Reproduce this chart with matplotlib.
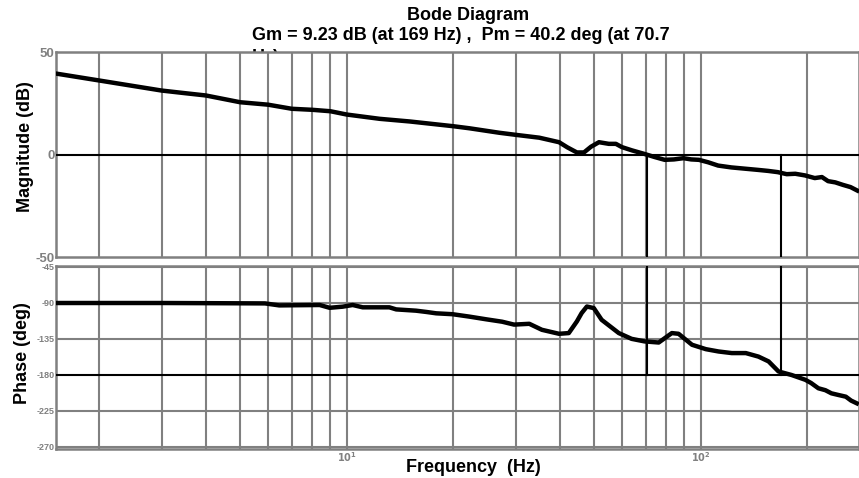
import matplotlib
matplotlib.use("Agg")
import matplotlib.pyplot as plt
from matplotlib.ticker import FixedLocator, NullFormatter

plt.rcParams['font.family'] = ['Liberation Sans', 'DejaVu Sans']

# ---- data ----
mag_freq = [1.52, 2.0, 3.0, 3.5, 4.0, 5.0, 6.0, 7.0, 8.0, 9.0, 10.0, 12.4, 15.1, 20.0,
            22.2, 27.0, 30.0, 35.0, 39.8, 42.0, 44.7, 46.8, 49.0, 51.6, 55.0, 57.6, 59.9,
            64.0, 69.6, 74.0, 79.1, 84.0, 89.4, 94.0, 98.8, 105.0, 112.0, 122.0, 133.0,
            145.0, 155.0, 165.0, 175.0, 185.0, 197.0, 210.0, 220.0, 229.0, 240.0, 252.0,
            265.0, 277.0]
mag_db = [39.4, 36.1, 31.2, 29.9, 28.8, 25.5, 24.3, 22.3, 21.8, 21.1, 19.5, 17.4, 16.1, 13.8,
          12.8, 10.6, 9.6, 8.2, 6.0, 3.5, 1.0, 1.0, 3.8, 6.0, 5.2, 5.2, 3.6,
          2.0, 0.2, -1.2, -2.6, -2.4, -1.8, -2.4, -2.6, -3.8, -5.4, -6.3, -6.9,
          -7.5, -8.0, -8.6, -9.6, -9.4, -10.2, -11.5, -11.0, -13.0, -13.6, -14.8,
          -15.9, -17.6]

ph_freq = [1.52, 3.0, 5.88, 6.45, 8.39, 8.95, 9.74, 10.4, 11.1, 13.2, 13.8, 15.7, 16.8,
           17.9, 19.9, 22.2, 24.8, 27.5, 29.7, 32.8, 35.6, 39.8, 42.4, 44.7, 46.1, 47.7,
           49.9, 52.5, 58.7, 63.8, 69.4, 76.1, 82.9, 86.6, 94.5, 103.4, 112.3, 122.4,
           134.1, 145.6, 155.5, 165.9, 180.6, 197.5, 205.0, 215.0, 225.0, 234.0, 245.0,
           257.0, 266.0, 276.0]
ph_deg = [-90.0, -90.0, -90.5, -93.0, -92.5, -96.0, -94.6, -92.5, -95.4, -95.4, -98.0, -99.6,
          -101.2, -102.9, -104.0, -107.0, -110.4, -113.4, -117.0, -116.0, -123.5, -128.5,
          -127.6, -113.0, -102.6, -94.4, -96.4, -111.0, -127.6, -134.8, -138.0, -139.4,
          -127.6, -128.5, -142.2, -147.7, -150.6, -152.6, -152.6, -157.0, -163.0, -175.6,
          -180.0, -186.0, -190.0, -196.6, -199.0, -202.9, -205.0, -207.1, -212.0, -215.4]

gm_freq = 169.0
pm_freq = 70.7
title_1 = "Bode Diagram"
title_2 = "Gm = 9.23 dB (at 169 Hz) ,  Pm = 40.2 deg (at 70.7"
title_3 = "Hz)"
mag_ticks = [50, 0, -50]
ph_ticks = [-45, -90, -135, -180, -225, -270]
x_ticks = [10, 100]
x_ticklabels = [r'$\mathbf{10^{1}}$', r'$\mathbf{10^{2}}$']
grid_freqs = [2, 3, 4, 5, 6, 7, 8, 9, 10, 20, 30, 40, 50, 60, 70, 80, 90, 100, 200]

# ---- figure ----
W, H = 859, 478
fig = plt.figure(figsize=(W / 100, H / 100), dpi=100)

gray = '#808080'
left = 56 / W
ax1 = fig.add_axes([left, 1 - 257 / H, 1 - left, (257 - 52) / H])
ax2 = fig.add_axes([left, 1 - 449 / H, 1 - left, (449 - 266) / H])

xlim = (1.51, 280)
for ax in (ax1, ax2):
    ax.set_xscale('log')
    ax.set_xlim(*xlim)
    for f in grid_freqs:
        ax.axvline(f, color=gray, lw=1.5, zorder=1)
    for s in ax.spines.values():
        s.set_color(gray)
        s.set_linewidth(1.8)
    ax.xaxis.set_major_locator(FixedLocator(x_ticks))
    ax.xaxis.set_minor_locator(FixedLocator([]))
    ax.tick_params(length=0, pad=1)

fs = 13

# magnitude
ax1.plot(mag_freq, mag_db, color='black', lw=3.2, zorder=4)
ax1.set_ylim(-50, 50)
ax1.set_yticks(mag_ticks)
ax1.set_yticklabels([str(t) for t in mag_ticks], color=gray, fontsize=9.5, fontweight='bold')
ax1.xaxis.set_major_formatter(NullFormatter())
ax1.axhline(0, color='black', lw=1.5, zorder=3)
ax1.plot([pm_freq, pm_freq], [0, -50], color='black', lw=1.5, zorder=3)
ax1.plot([gm_freq, gm_freq], [0, -50], color='black', lw=1.5, zorder=3)

# phase
ax2.plot(ph_freq, ph_deg, color='black', lw=3.2, zorder=4)
ax2.set_ylim(-272.5, -43.75)
ax2.set_yticks(ph_ticks)
ax2.set_yticklabels([str(t) for t in ph_ticks], color=gray, fontsize=6.5, fontweight='bold')
for t in ph_ticks:
    if t != -180:
        ax2.axhline(t, color=gray, lw=1.5, zorder=1)
ax2.axhline(-180, color='black', lw=1.5, zorder=3)
ax2.plot([pm_freq, pm_freq], [-43.75, -180], color='black', lw=1.5, zorder=3)
ax2.plot([gm_freq, gm_freq], [-43.75, -180], color='black', lw=1.5, zorder=3)
ax2.set_xticklabels(x_ticklabels, color=gray, fontsize=7)

fig.text(25 / W, 1 - 147 / H, 'Magnitude (dB)', rotation=90, ha='center', va='center',
         fontsize=fs, fontweight='bold')
fig.text(23 / W, 1 - 353 / H, 'Phase (deg)', rotation=90, ha='center', va='center',
         fontsize=fs, fontweight='bold')
fig.text(473 / W, 1 - 467 / H, 'Frequency  (Hz)', ha='center', va='center',
         fontsize=fs, fontweight='bold')

# titles
fig.text(468 / W, 1 - 16 / H, title_1, ha='center', va='center', fontsize=fs, fontweight='bold')
fig.text(252 / W, 1 - 36 / H, title_2, ha='left', va='center', fontsize=fs, fontweight='bold')
fig.text(252 / W, 1 - 57 / H, title_3, ha='left', va='center', fontsize=fs, fontweight='bold',
         zorder=-5)

fig.savefig('out.png', dpi=100)
